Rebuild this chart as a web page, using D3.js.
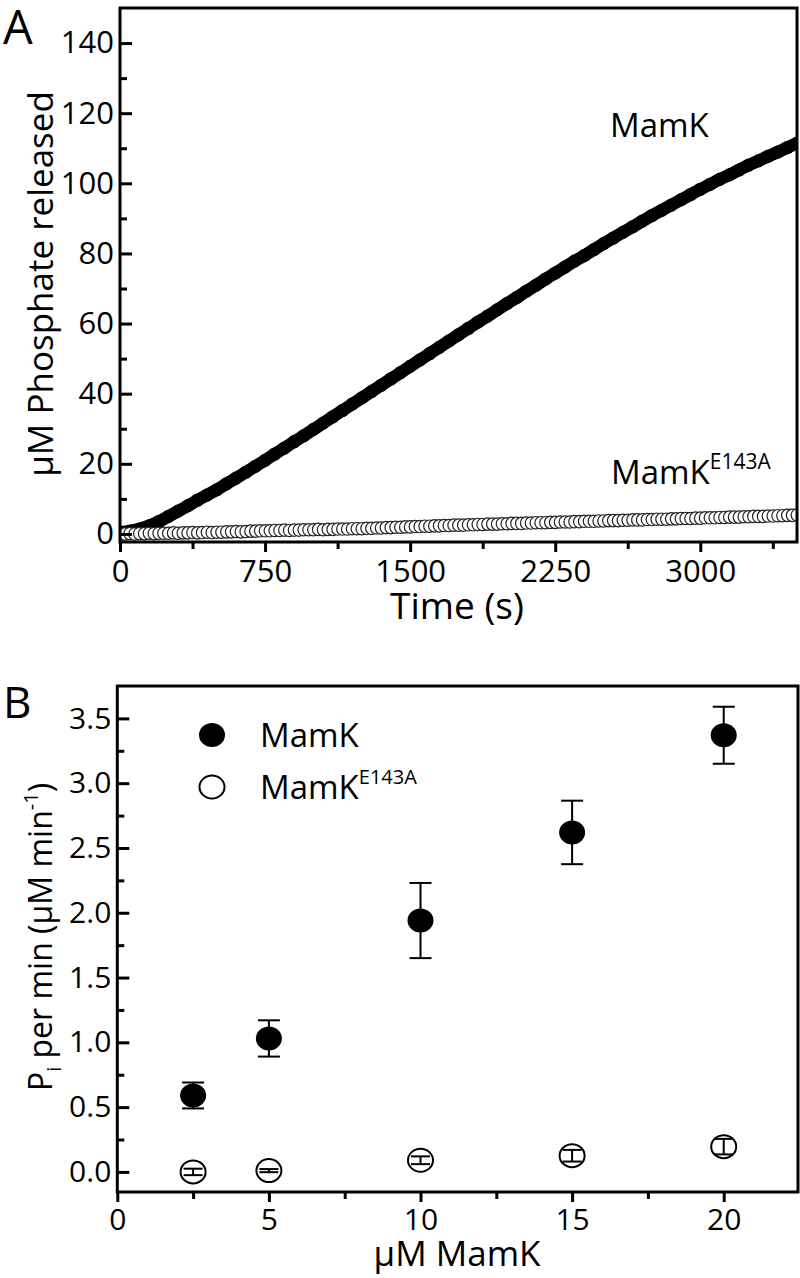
<!DOCTYPE html>
<html>
<head>
<meta charset="utf-8">
<script src="https://cdn.jsdelivr.net/npm/d3@7/dist/d3.min.js"></script>
<style>
  html, body { margin: 0; padding: 0; background: #fff; }
  svg { display: block; font-family: "Open Sans", "Noto Sans", sans-serif; }
  text { fill: #000; }
</style>
</head>
<body>
<svg id="chart" width="800" height="1278"></svg>
<script>
// ---------------- DATA ----------------
// Panel A: time course (s) of phosphate released (uM)
const timeMamK = d3.range(0, 3501, 50);
const valuesMamK = [
  0.5, 0.8, 1.4, 2.3, 3.5, 5.0,
  6.5, 8.0, 9.6, 11.1, 12.6,
  14.3, 15.9, 17.6, 19.3, 21.0,
  22.8, 24.5, 26.3, 28.0, 29.8,
  31.6, 33.4, 35.2, 37.0, 38.8,
  40.6, 42.4, 44.2, 46.0, 47.8,
  49.6, 51.4, 53.2, 55.0, 56.8,
  58.6, 60.4, 62.1, 63.9, 65.7,
  67.4, 69.2, 70.9, 72.7, 74.4,
  76.1, 77.8, 79.4, 81.1, 82.8,
  84.4, 86.0, 87.6, 89.2, 90.8,
  92.3, 93.8, 95.3, 96.8, 98.3,
  99.7, 101.1, 102.4, 103.8, 105.2,
  106.4, 107.7, 108.9, 110.2, 111.4
];
const timeE143A = d3.range(0, 3501, 25);
const valuesE143A = [
  0.0, 0.0, 0.1, 0.0, 0.1, 0.1, 0.2, 0.1, 0.2, 0.2,
  0.2, 0.3, 0.2, 0.3, 0.3, 0.4, 0.3, 0.4, 0.5, 0.4,
  0.5, 0.5, 0.6, 0.6, 0.7, 0.6, 0.7, 0.8, 0.8, 0.9,
  0.9, 0.9, 1.0, 1.0, 1.1, 1.0, 1.1, 1.1, 1.2, 1.2,
  1.2, 1.3, 1.2, 1.3, 1.3, 1.4, 1.4, 1.4, 1.5, 1.5,
  1.5, 1.6, 1.6, 1.7, 1.7, 1.8, 1.8, 1.9, 1.9, 2.0,
  2.0, 2.1, 2.1, 2.2, 2.2, 2.3, 2.3, 2.4, 2.4, 2.5,
  2.5, 2.5, 2.6, 2.6, 2.7, 2.7, 2.8, 2.8, 2.8, 2.9,
  2.9, 3.0, 3.0, 3.0, 3.1, 3.1, 3.2, 3.2, 3.2, 3.3,
  3.3, 3.4, 3.4, 3.4, 3.5, 3.5, 3.6, 3.6, 3.6, 3.7,
  3.7, 3.8, 3.8, 3.8, 3.9, 3.9, 4.0, 4.0, 4.0, 4.1,
  4.1, 4.2, 4.2, 4.2, 4.3, 4.3, 4.4, 4.4, 4.4, 4.5,
  4.5, 4.6, 4.6, 4.6, 4.7, 4.7, 4.8, 4.8, 4.8, 4.9,
  4.9, 5.0, 5.0, 5.0, 5.1, 5.1, 5.2, 5.2, 5.3, 5.3,
  5.4
];
const ticksAx = [0, 750, 1500, 2250, 3000];
const minorAx = [375, 1125, 1875, 2625, 3375];
const ticksAy = [0, 20, 40, 60, 80, 100, 120, 140];
const minorAy = [10, 30, 50, 70, 90, 110, 130];

// Panel B: rate vs concentration
const concB = [2.5, 5, 10, 15, 20];
const rateMamK = [0.59, 1.03, 1.94, 2.62, 3.37];
const errMamK = [0.10, 0.14, 0.29, 0.245, 0.22];
const rateE143A = [0.00, 0.01, 0.09, 0.125, 0.195];
const errE143A = [0.025, 0.012, 0.03, 0.045, 0.06];
const ticksBx = [0, 5, 10, 15, 20];
const minorBx = [2.5, 7.5, 12.5, 17.5];
const ticksBy = [0.0, 0.5, 1.0, 1.5, 2.0, 2.5, 3.0, 3.5];
const minorBy = [0.25, 0.75, 1.25, 1.75, 2.25, 2.75, 3.25];

// ---------------- DRAW ----------------
const svg = d3.select("#chart");

function frameAxes(g, x, y, xt, xminor, yt, yminor, xfmt, yfmt, fs, xpad) {
  const [x0, x1] = x.range();
  const [y0, y1] = y.range();
  const ay = g.append("g").attr("transform", `translate(${x0},0)`)
    .call(d3.axisLeft(y).tickValues(yt).tickFormat(yfmt).tickSizeInner(-12).tickSizeOuter(0).tickPadding(6));
  ay.select(".domain").remove();
  ay.selectAll("line").attr("stroke-width", 3);
  ay.selectAll("text").attr("font-size", fs).attr("font-family", "Open Sans");
  const ayMinor = g.append("g").attr("transform", `translate(${x0},0)`)
    .call(d3.axisLeft(y).tickValues(yminor).tickFormat("").tickSizeInner(-7).tickSizeOuter(0));
  ayMinor.select(".domain").remove();
  ayMinor.selectAll("line").attr("stroke-width", 3);
  const ax = g.append("g").attr("transform", `translate(0,${y0})`)
    .call(d3.axisBottom(x).tickValues(xt).tickFormat(xfmt).tickSizeInner(10).tickSizeOuter(0).tickPadding(xpad));
  ax.select(".domain").remove();
  ax.selectAll("line").attr("stroke-width", 3);
  ax.selectAll("text").attr("font-size", fs).attr("font-family", "Open Sans");
  const axMinor = g.append("g").attr("transform", `translate(0,${y0})`)
    .call(d3.axisBottom(x).tickValues(xminor).tickFormat("").tickSizeInner(7).tickSizeOuter(0));
  axMinor.select(".domain").remove();
  axMinor.selectAll("line").attr("stroke-width", 3);
  g.append("rect").attr("x", x0).attr("y", y1).attr("width", x1 - x0).attr("height", y0 - y1)
    .attr("fill", "none").attr("stroke", "#000").attr("stroke-width", 3);
}

// ----- Panel A -----
const xA = d3.scaleLinear().domain([0, 3500]).range([120, 797]);
const yA = d3.scaleLinear().domain([-2.3, 150]).range([542, 8]);
const gA = svg.append("g");

svg.append("defs").append("clipPath").attr("id", "clipA")
  .append("rect").attr("x", 121).attr("y", 9).attr("width", 675).attr("height", 532);

const plotA = gA.append("g").attr("clip-path", "url(#clipA)");
const mamkPts = timeMamK.map((t, i) => [t, valuesMamK[i]]);
plotA.append("path")
  .attr("d", d3.line().curve(d3.curveMonotoneX).x(d => xA(d[0])).y(d => yA(d[1]))(mamkPts))
  .attr("fill", "none").attr("stroke", "#000").attr("stroke-width", 12.5)
  .attr("stroke-linecap", "round").attr("stroke-linejoin", "round");
plotA.selectAll("circle.mk").data(mamkPts).enter().append("circle")
  .attr("cx", d => xA(d[0])).attr("cy", d => yA(d[1])).attr("r", 6.6).attr("fill", "#000");
const e143Pts = timeE143A.map((t, i) => [t, valuesE143A[i]]);
plotA.selectAll("ellipse.e").data(e143Pts).enter().append("ellipse")
  .attr("cx", d => xA(d[0])).attr("cy", d => yA(d[1])).attr("rx", 5.8).attr("ry", 6.2)
  .attr("fill", "#fff").attr("stroke", "#222").attr("stroke-width", 1.2);

frameAxes(gA, xA, yA, ticksAx, minorAx, ticksAy, minorAy, d3.format("d"), d3.format("d"), 31, 8);

gA.append("text").attr("x", 3).attr("y", 44).attr("font-size", 47).text("A");
gA.append("text").attr("x", 610).attr("y", 137).attr("font-size", 33).text("MamK");
const tE = gA.append("text").attr("x", 611).attr("y", 484).attr("font-size", 33);
tE.append("tspan").text("MamK");
tE.append("tspan").attr("dy", -15).attr("font-size", 21).text("E143A");
gA.append("text").attr("x", 457).attr("y", 619).attr("text-anchor", "middle").attr("font-size", 37).text("Time (s)");
gA.append("text").attr("transform", "translate(53,284) rotate(-90)").attr("text-anchor", "middle")
  .attr("font-size", 35).text("\u03bcM Phosphate released");

// ----- Panel B -----
const xB = d3.scaleLinear().domain([0, 22.45]).range([117.3, 798]);
const yB = d3.scaleLinear().domain([-0.155, 3.75]).range([1192, 686]);
const gB = svg.append("g");

frameAxes(gB, xB, yB, ticksBx, minorBx, ticksBy, minorBy, d3.format("d"), d3.format(".1f"), 30, 7);

function drawSeries(rates, errs, filled, cap) {
  const gs = gB.append("g");
  concB.forEach((c, i) => {
    const cx = xB(c), cy = yB(rates[i]);
    const yt = yB(rates[i] + errs[i]), yb = yB(rates[i] - errs[i]);
    const bars = () => {
      gs.append("line").attr("x1", cx).attr("x2", cx).attr("y1", yt).attr("y2", yb).attr("stroke", "#000").attr("stroke-width", 2);
      [yt, yb].forEach(yy => gs.append("line").attr("x1", cx - cap).attr("x2", cx + cap).attr("y1", yy).attr("y2", yy)
        .attr("stroke", "#000").attr("stroke-width", 2));
    };
    if (filled) {
      bars();
      gs.append("ellipse").attr("cx", cx).attr("cy", cy).attr("rx", 13).attr("ry", 12).attr("fill", "#000");
    } else {
      gs.append("ellipse").attr("cx", cx).attr("cy", cy).attr("rx", 12.5).attr("ry", 11.5)
        .attr("fill", "#fff").attr("stroke", "#000").attr("stroke-width", 2);
      bars();
    }
  });
}
drawSeries(rateMamK, errMamK, true, 11);
drawSeries(rateE143A, errE143A, false, 9.5);

// legend
gB.append("ellipse").attr("cx", 212).attr("cy", 735).attr("rx", 13).attr("ry", 12).attr("fill", "#000");
gB.append("text").attr("x", 260).attr("y", 747).attr("font-size", 33).text("MamK");
gB.append("ellipse").attr("cx", 212).attr("cy", 787).attr("rx", 12.5).attr("ry", 11.5)
  .attr("fill", "#fff").attr("stroke", "#000").attr("stroke-width", 2);
const tL = gB.append("text").attr("x", 260).attr("y", 799).attr("font-size", 33);
tL.append("tspan").text("MamK");
tL.append("tspan").attr("dy", -15).attr("font-size", 20).text("E143A");

gB.append("text").attr("x", 3).attr("y", 718).attr("font-size", 44).text("B");
gB.append("text").attr("x", 457).attr("y", 1266).attr("text-anchor", "middle").attr("font-size", 35).text("\u03bcM MamK");
const tY = gB.append("text").attr("transform", "translate(52,937) rotate(-90)").attr("text-anchor", "middle").attr("font-size", 32);
tY.append("tspan").text("P");
tY.append("tspan").attr("dy", 9).attr("font-size", 20).text("i");
tY.append("tspan").attr("dy", -9).text(" per min (\u03bcM min");
tY.append("tspan").attr("dy", -14).attr("font-size", 20).text("-1");
tY.append("tspan").attr("dy", 14).text(")");
</script>
</body>
</html>
